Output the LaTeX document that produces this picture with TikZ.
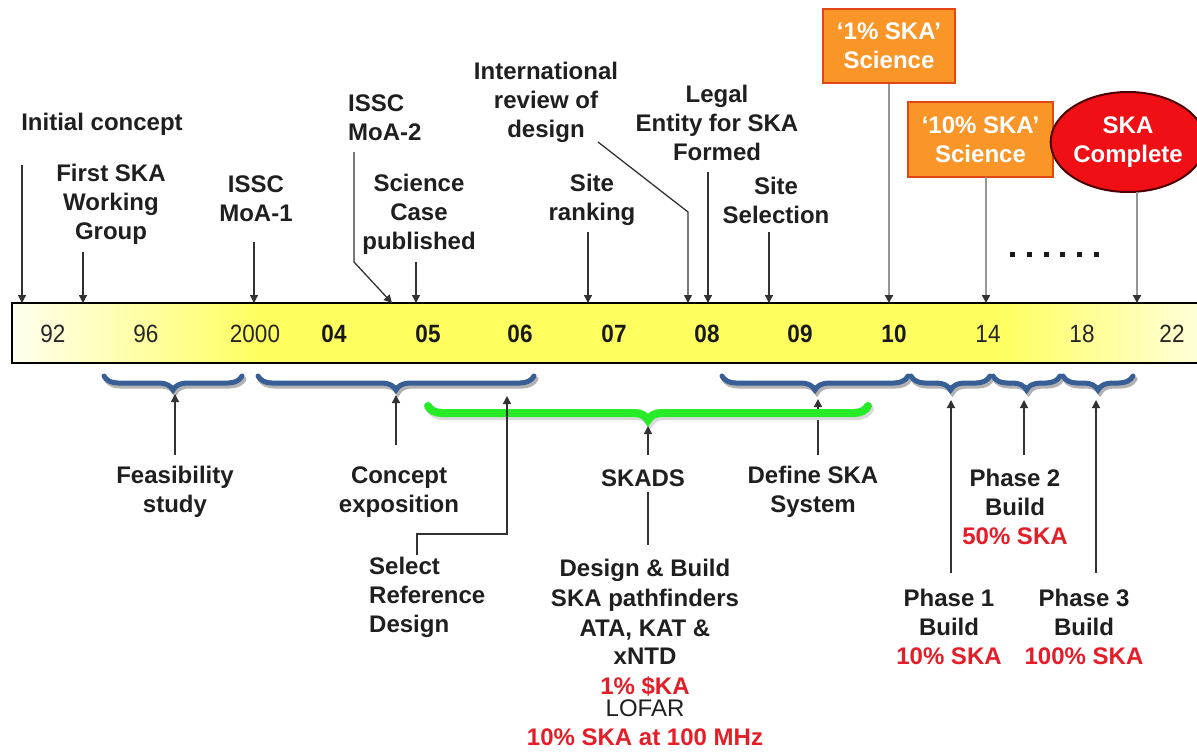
\documentclass[tikz,border=0pt]{standalone}
\usepackage{fontspec}
\setmainfont{Liberation Sans}
\usetikzlibrary{arrows.meta,decorations.pathreplacing,shapes.geometric}
\definecolor{barY}{RGB}{255,255,95}
\definecolor{braceblue}{RGB}{55,95,150}
\definecolor{bracegreen}{RGB}{40,235,40}
\definecolor{boxorange}{RGB}{250,150,40}
\definecolor{boxedge}{RGB}{225,70,20}
\definecolor{skared}{RGB}{240,15,20}
\definecolor{txtred}{RGB}{228,30,40}
\definecolor{arrowgray}{RGB}{50,50,50}
\definecolor{linegray}{RGB}{150,150,150}
\newcommand{\skbrace}[5]{% #1 colour, #2 x1, #3 x2, #4 y, #5 width
  \draw[decorate,decoration={brace,mirror,amplitude=14pt},line width=#5,draw=black!30,line cap=round] (#2+2,#4+3) -- (#3+2,#4+3);
  \draw[decorate,decoration={brace,mirror,amplitude=14pt},line width=#5,draw=#1,line cap=round] (#2,#4) -- (#3,#4);}
\begin{document}
\begin{tikzpicture}[x=1pt,y=-1pt,
  lbl/.style={font=\fontsize{24}{29}\selectfont\bfseries, align=center, inner sep=0pt, text=black!88},
  yr/.style={font=\fontsize{25}{28}\selectfont, inner sep=0pt, text=black!85},
  yrb/.style={font=\fontsize{25}{28}\selectfont\bfseries, inner sep=0pt, text=black!90},
  arr/.style={draw=arrowgray, line width=1.3pt, -{Triangle[length=8pt,width=8pt]}},
  garr/.style={draw=linegray, line width=2pt, -{Triangle[length=8pt,width=8pt,color=arrowgray]}},
  plainln/.style={draw=arrowgray, line width=1.3pt},
  obox/.style={rectangle, fill=boxorange, draw=boxedge, line width=1.5pt, inner sep=0pt, text=white, align=center, font=\fontsize{24}{29}\selectfont\bfseries}
]
\useasboundingbox (0,0) rectangle (1197,752);
\fill[white] (0,0) rectangle (1197,752);

% ---- timeline bar
\shade[left color=barY!10!white, right color=barY] (12,303) rectangle (262,363);
\fill[barY] (261,303) rectangle (1001,363);
\shade[left color=barY, right color=barY!25!white] (1000,303) rectangle (1197,363);
\draw[line width=2pt] (1197,303) -- (12,303) -- (12,363) -- (1197,363);

\node[yr]  (y92)  at (53,334)   {\scalebox{0.9}[1]{92}};
\node[yr]  (y96)  at (146,334)  {\scalebox{0.9}[1]{96}};
\node[yr]  (y00)  at (255,334)  {\scalebox{0.9}[1]{2000}};
\node[yrb] (y04)  at (334,334)  {\scalebox{0.9}[1]{04}};
\node[yrb] (y05)  at (428,334)  {\scalebox{0.9}[1]{05}};
\node[yrb] (y06)  at (520,334)  {\scalebox{0.9}[1]{06}};
\node[yrb] (y07)  at (614,334)  {\scalebox{0.9}[1]{07}};
\node[yrb] (y08)  at (707,334)  {\scalebox{0.9}[1]{08}};
\node[yrb] (y09)  at (800,334)  {\scalebox{0.9}[1]{09}};
\node[yrb] (y10)  at (894,334)  {\scalebox{0.9}[1]{10}};
\node[yr]  (y14)  at (988,334)  {\scalebox{0.9}[1]{14}};
\node[yr]  (y18)  at (1082,334) {\scalebox{0.9}[1]{18}};
\node[yr]  (y22)  at (1172,334) {\scalebox{0.9}[1]{22}};

% ---- events above the bar
\node[lbl] (init) at (102,124) {Initial concept};
\coordinate (initS) at (22,165);  \coordinate (initE) at (22,303);
\draw[arr] (initS) -- (initE);

\node[lbl] (fswg) at (111,204) {First SKA\\Working\\Group};
\coordinate (fswgS) at (83,252);  \coordinate (fswgE) at (83,303);
\draw[arr] (fswgS) -- (fswgE);

\node[lbl] (moa1) at (256,199) {ISSC\\MoA-1};
\coordinate (moa1S) at (254,242); \coordinate (moa1E) at (254,303);
\draw[arr] (moa1S) -- (moa1E);

\node[lbl, anchor=west, align=left] (moa2) at (348,118) {ISSC\\MoA-2};
\coordinate (moa2S) at (354,152); \coordinate (moa2K) at (354,262); \coordinate (moa2E) at (392,303);
\draw[arr] (moa2S) -- (moa2K) -- (moa2E);

\node[lbl] (scase) at (419,214) {Science\\Case\\published};
\coordinate (scaseS) at (416,262); \coordinate (scaseE) at (416,303);
\draw[arr] (scaseS) -- (scaseE);

\node[lbl] (intrev) at (546,102) {International\\review of\\design};
\coordinate (intrevS) at (598,142); \coordinate (intrevK) at (688,212); \coordinate (intrevE) at (688,303);
\draw[arr] (intrevS) -- (intrevK) -- (intrevE);

\node[lbl] (legal) at (717,123) {Legal\\Entity for SKA\\Formed};
\coordinate (legalS) at (708,172); \coordinate (legalE) at (708,303);
\draw[arr] (legalS) -- (legalE);

\node[lbl] (srank) at (592,200) {Site\\ranking};
\coordinate (srankS) at (588,232); \coordinate (srankE) at (588,303);
\draw[arr] (srankS) -- (srankE);

\node[lbl] (ssel) at (776,200) {Site\\Selection};
\coordinate (sselS) at (769,232); \coordinate (sselE) at (769,303);
\draw[arr] (sselS) -- (sselE);

\node[obox, minimum width=132, minimum height=74] (sci1) at (889,46) {‘1\% SKA’\\Science};
\coordinate (sci1E) at (889,303);
\draw[garr] (sci1.south) -- (sci1E);

\node[obox, minimum width=145, minimum height=75] (sci10) at (980.5,139.5) {‘10\% SKA’\\Science};
\coordinate (sci10S) at (986,177); \coordinate (sci10E) at (986,303);
\draw[garr] (sci10S) -- (sci10E);

\node[ellipse, fill=skared, draw=black!70!red, line width=2pt, minimum width=136, minimum height=100, inner sep=0pt, text=white, align=center, font=\fontsize{24}{29}\selectfont\bfseries] (done) at (1128,142) {SKA\\Complete};
\coordinate (doneS) at (1137,192); \coordinate (doneE) at (1137,303);
\draw[garr] (doneS) -- (doneE);

\foreach \i in {0,...,5} \fill[black!90] (1010+\i*16.8,251.5) rectangle +(5,5);

% ---- braces below the bar
\skbrace{braceblue}{104}{242}{376}{5pt}
\skbrace{braceblue}{258}{534}{376}{5pt}
\skbrace{braceblue}{722}{908}{376}{5pt}
\skbrace{braceblue}{911}{990}{376}{5pt}
\skbrace{braceblue}{993}{1060}{376}{5pt}
\skbrace{braceblue}{1063}{1133}{376}{5pt}

% Define SKA line passes behind the green brace
\node[lbl] (defska) at (813,492) {Define SKA\\System};
\coordinate (defS) at (818,455); \coordinate (defE) at (818,399);
\draw[arr] (defS) -- (defE);

\draw[decorate,decoration={brace,mirror,amplitude=14pt},line width=8pt,draw=black!15,line cap=round] (430,409) -- (870,409);
\draw[decorate,decoration={brace,mirror,amplitude=14pt},line width=8pt,draw=bracegreen,line cap=round] (428,406) -- (868,406);

\node[lbl] (feas) at (175,492) {Feasibility\\study};
\coordinate (feasS) at (175,455); \coordinate (feasE) at (175,394);
\draw[arr] (feasS) -- (feasE);

\node[lbl] (conc) at (399,492) {Concept\\exposition};
\coordinate (concS) at (396,445); \coordinate (concE) at (396,395);
\draw[arr] (concS) -- (concE);

\node[lbl, anchor=west, align=left] (selref) at (369,597) {Select\\Reference\\Design};
\coordinate (selS) at (417,555); \coordinate (selK1) at (417,534); \coordinate (selK2) at (507,534); \coordinate (selE) at (507,396);
\draw[arr] (selS) -- (selK1) -- (selK2) -- (selE);

\node[lbl] (skads) at (643,478) {SKADS};
\coordinate (skadsS) at (648,455); \coordinate (skadsE) at (648,426);
\draw[arr] (skadsS) -- (skadsE);

\node[lbl, anchor=north, font=\fontsize{24}{30}\selectfont\bfseries] (dnb) at (645,559)
  {Design \& Build\\SKA pathfinders\\ATA, KAT \&\\[-2pt]xNTD\\\textcolor{txtred}{1\% \$KA}\\[-8pt]{\mdseries LOFAR}\\[-1pt]\textcolor{txtred}{10\% SKA at 100 MHz}};
\coordinate (skadsB) at (648,492); \coordinate (dnbT) at (648,545);
\draw[plainln] (skadsB) -- (dnbT);

\node[lbl] (ph1) at (949,627) {Phase 1\\Build\\\textcolor{txtred}{10\% SKA}};
\coordinate (ph1S) at (951,573); \coordinate (ph1E) at (951,400);
\draw[arr] (ph1S) -- (ph1E);

\node[lbl] (ph2) at (1015,507) {Phase 2\\Build\\\textcolor{txtred}{50\% SKA}};
\coordinate (ph2S) at (1024,455); \coordinate (ph2E) at (1024,400);
\draw[arr] (ph2S) -- (ph2E);

\node[lbl] (ph3) at (1084,627) {Phase 3\\Build\\\textcolor{txtred}{100\% SKA}};
\coordinate (ph3S) at (1096,573); \coordinate (ph3E) at (1096,400);
\draw[arr] (ph3S) -- (ph3E);
\end{tikzpicture}
\end{document}
